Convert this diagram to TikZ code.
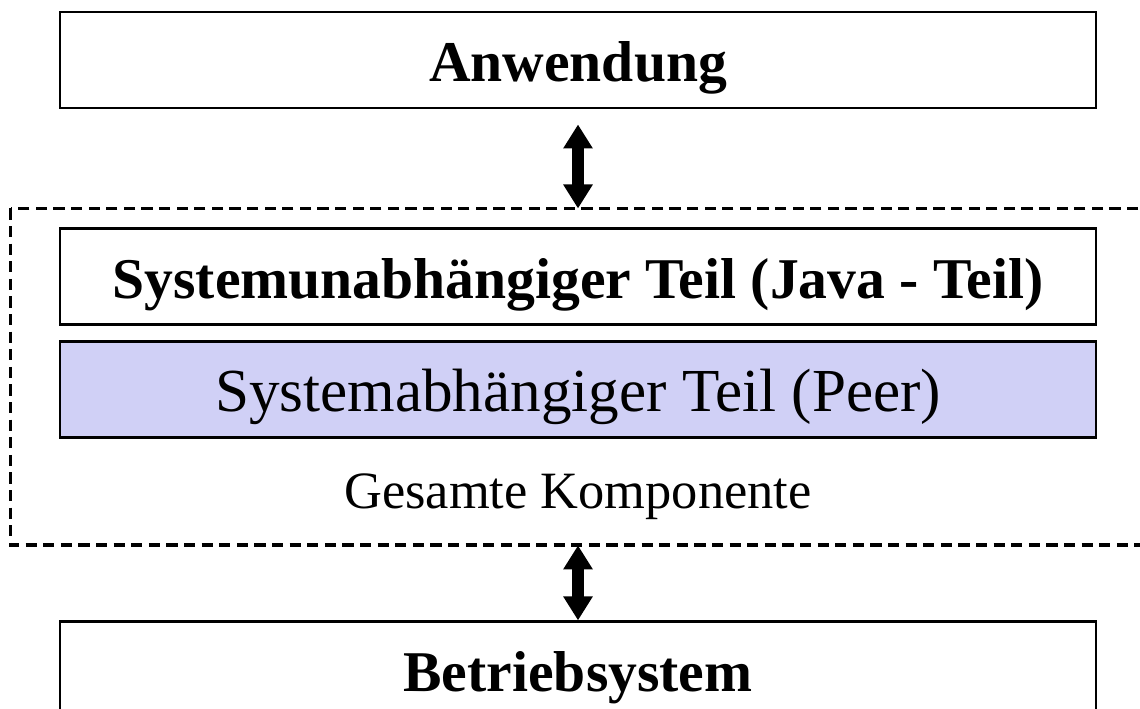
\documentclass[tikz,border=0pt]{standalone}
\usepackage{fontspec}
\setmainfont{Liberation Serif}
\usepackage{xcolor}
\usepackage{tikz}
\usetikzlibrary{positioning, arrows.meta, calc}

\definecolor{peerfill}{RGB}{208,208,246}

\begin{document}
\begin{tikzpicture}[
        node distance=2.95cm,
        % Layer box
        box/.style={
            rectangle, draw=black, line width=2.1pt,
            fill=white,
            minimum width=25.9cm, minimum height=2.4cm,
            text height=1.1cm, text depth=0pt,
            font=\fontsize{41}{49}\selectfont\bfseries
        },
        % Peer layer (filled)
        peer/.style={
            box, fill=peerfill,
            font=\fontsize{43.5}{52}\selectfont
        },
        % Dashed frame round the component
        frame/.style={
            draw=black, line width=2.8pt,
            dash pattern=on 0.28cm off 0.16cm
        },
        % Thick arrow with two heads
        biarrow/.style={
            line width=0.3cm,
            {Triangle[width=0.7cm, length=0.6cm]}-{Triangle[width=0.7cm, length=0.6cm]}
        },
        caption/.style={font=\fontsize{37.3}{45}\selectfont}
    ]

        \useasboundingbox (0,0) rectangle (28.5,-17.7);

        % Layers
        \node[box] (anw) at (14.45,-1.5) {Anwendung};
        \node[box, below=of anw] (sysu) {Systemunabhängiger Teil (Java - Teil)};
        \node[peer, below=0.35cm of sysu] (sysa) {Systemabhängiger Teil (Peer)};
        \node[box, below=4.525cm of sysa] (betr) {Betriebsystem};

        % Component frame
        \coordinate (fnw) at ($(sysu.north west)+(-1.2,0.475)$);
        \coordinate (fse) at ($(sysa.south east)+(1.6,-2.65)$);
        \draw[frame] (fnw) rectangle (fse);
        \node[caption, below=1.725cm of sysa, anchor=base] (ges) {Gesamte Komponente};

        % Connections
        \draw[biarrow] ([yshift=-0.375cm]anw.south) -- (anw.south |- fnw);
        \draw[biarrow] (betr.north |- fse) -- (betr.north);

    \end{tikzpicture}
\end{document}
